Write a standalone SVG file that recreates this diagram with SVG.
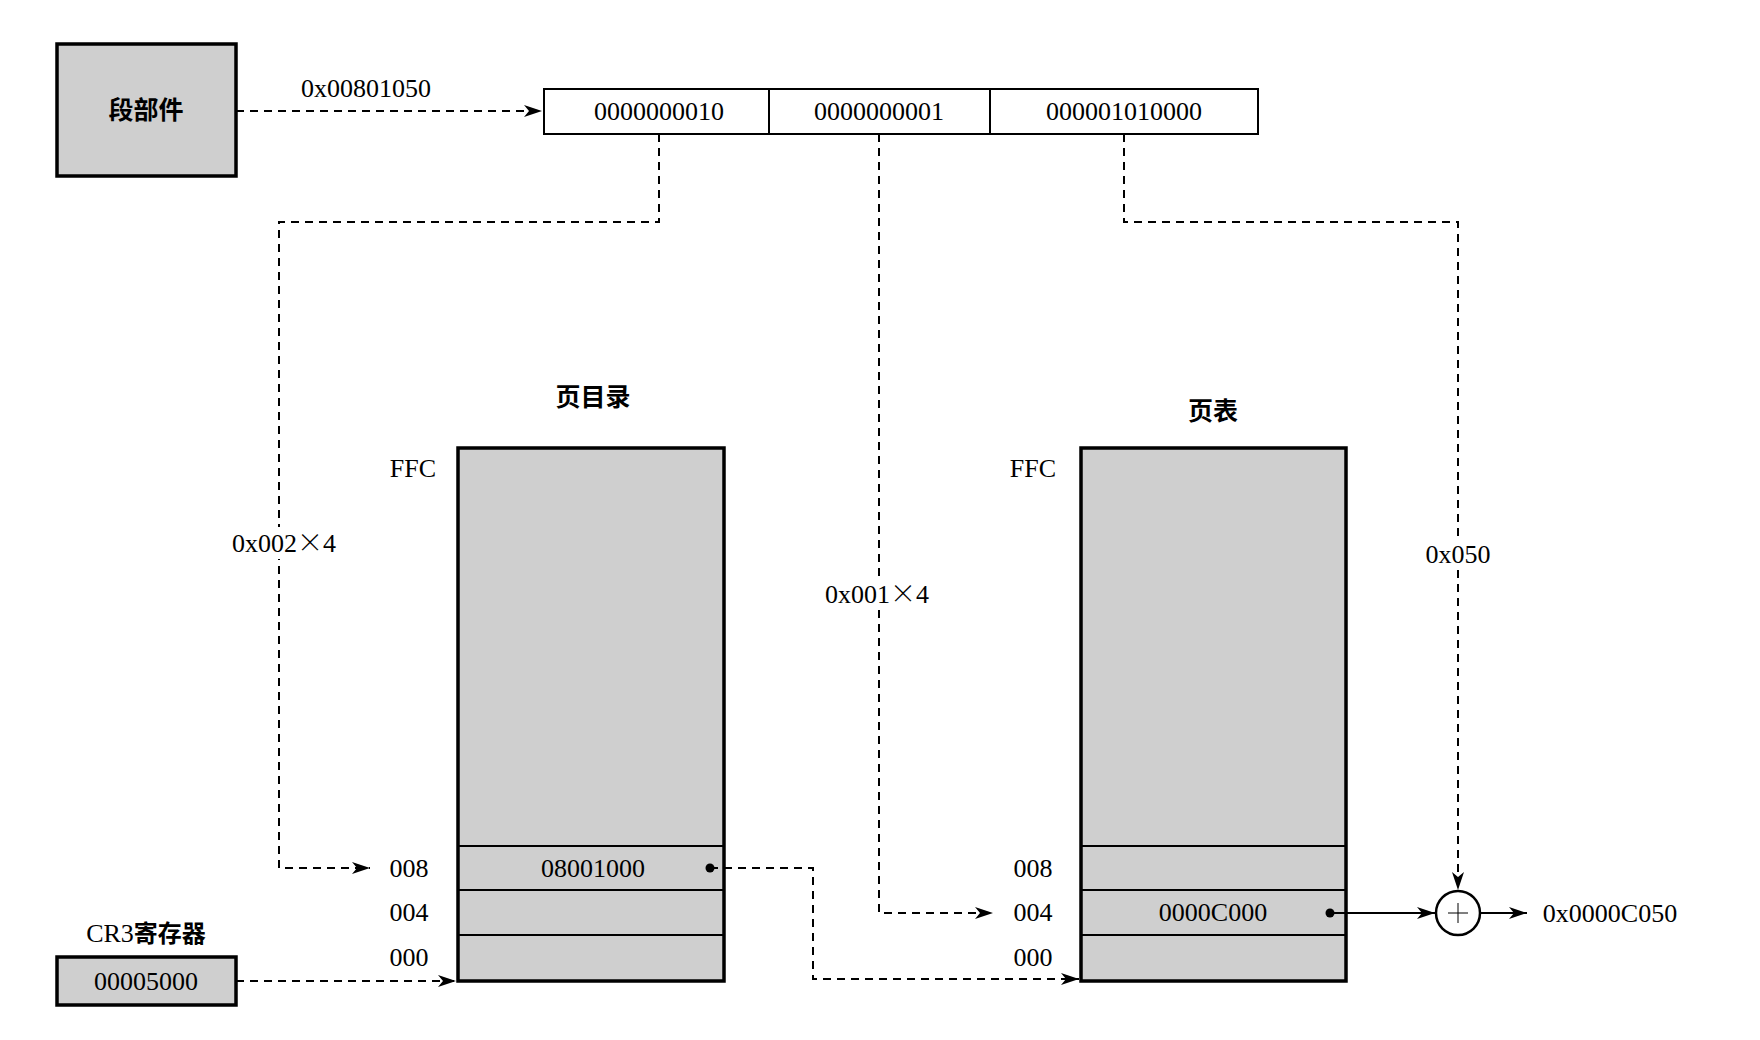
<svg xmlns="http://www.w3.org/2000/svg" width="1760" height="1040" viewBox="0 0 1760 1040">
<style>
.t{font-family:"Liberation Serif","Noto Sans CJK SC",serif;font-size:26px;fill:#000;text-anchor:middle}
.cn{font-family:"Noto Sans CJK SC","Liberation Serif",sans-serif;font-size:25px;font-weight:bold;fill:#000;text-anchor:middle}
.cj{font-family:"Noto Sans CJK SC",sans-serif;font-weight:bold}
.x{font-family:"Noto Sans CJK SC",sans-serif;font-weight:300}
.box{fill:#cfcfcf;stroke:#000;stroke-width:3.5}
.row{stroke:#000;stroke-width:2}
.dash{fill:none;stroke:#000;stroke-width:2;stroke-dasharray:8 6}
.solid{fill:none;stroke:#000;stroke-width:2}
.bg{fill:#fff}
</style>
<defs>
<marker id="ah" viewBox="0 0 18 12" refX="18" refY="6" markerWidth="18" markerHeight="12" markerUnits="userSpaceOnUse" orient="auto">
<path d="M0,0 L18,6 L0,12 L5,6 z" fill="#000"/>
</marker>
</defs>
<rect width="1760" height="1040" fill="#fff"/>

<g id="seg">
<rect class="box" x="57" y="44" width="179" height="132"/>
<text class="cn" x="146" y="119">段部件</text>
</g>

<g id="addr">
<rect x="544" y="89" width="714" height="45" fill="#fff" stroke="#000" stroke-width="2"/>
<line class="row" x1="769" y1="89" x2="769" y2="134"/>
<line class="row" x1="990" y1="89" x2="990" y2="134"/>
<text class="t" x="659" y="120">0000000010</text>
<text class="t" x="879" y="120">0000000001</text>
<text class="t" x="1124" y="120">000001010000</text>
</g>

<g id="pagedir">
<text class="cn" x="593" y="406">页目录</text>
<rect class="box" x="458" y="448" width="266" height="533"/>
<line class="row" x1="458" y1="846" x2="724" y2="846"/>
<line class="row" x1="458" y1="890" x2="724" y2="890"/>
<line class="row" x1="458" y1="935" x2="724" y2="935"/>
<text class="t" x="593" y="877">08001000</text>
<circle cx="710" cy="868" r="4.5" fill="#000"/>
<text class="t" x="413" y="477">FFC</text>
<text class="t" x="409" y="877">008</text>
<text class="t" x="409" y="921">004</text>
<text class="t" x="409" y="966">000</text>
</g>

<g id="pagetable">
<text class="cn" x="1213" y="420">页表</text>
<rect class="box" x="1081" y="448" width="265" height="533"/>
<line class="row" x1="1081" y1="846" x2="1346" y2="846"/>
<line class="row" x1="1081" y1="890" x2="1346" y2="890"/>
<line class="row" x1="1081" y1="935" x2="1346" y2="935"/>
<text class="t" x="1213" y="921">0000C000</text>
<circle cx="1330" cy="913" r="4.5" fill="#000"/>
<text class="t" x="1033" y="477">FFC</text>
<text class="t" x="1033" y="877">008</text>
<text class="t" x="1033" y="921">004</text>
<text class="t" x="1033" y="966">000</text>
</g>

<g id="cr3">
<text class="t" x="146" y="942">CR3<tspan class="cj" font-size="24">寄存器</tspan></text>
<rect class="box" x="57" y="957" width="179" height="48"/>
<text class="t" x="146" y="990">00005000</text>
</g>

<g id="adder">
<circle cx="1458" cy="913" r="22" fill="#fff" stroke="#000" stroke-width="2.5"/>
<line x1="1448" y1="913" x2="1468" y2="913" stroke="#000" stroke-width="1"/>
<line x1="1458" y1="903" x2="1458" y2="923" stroke="#000" stroke-width="1"/>
</g>

<g id="result">
<text class="t" x="1610" y="922">0x0000C050</text>
</g>

<g id="connectors">
<path class="dash" d="M236,111 H542" marker-end="url(#ah)"/>
<path class="dash" d="M659,134 V222 H279 V868 H370" marker-end="url(#ah)"/>
<path class="dash" d="M879,134 V913 H993" marker-end="url(#ah)"/>
<path class="dash" d="M1124,134 V222 H1458 V890" marker-end="url(#ah)"/>
<path class="dash" d="M710,868 H813 V979 H1079" marker-end="url(#ah)"/>
<path class="dash" d="M236,981 H456" marker-end="url(#ah)"/>
<path class="solid" d="M1330,913 H1435" marker-end="url(#ah)"/>
<path class="solid" d="M1480,913 H1527" marker-end="url(#ah)"/>
<rect class="bg" x="228" y="527" width="106" height="32"/>
<text class="t" x="284" y="552">0x002<tspan class="x">×</tspan>4</text>
<rect class="bg" x="822" y="578" width="112" height="32"/>
<text class="t" x="877" y="603">0x001<tspan class="x">×</tspan>4</text>
<rect class="bg" x="1424" y="538" width="68" height="32"/>
<text class="t" x="1458" y="563">0x050</text>
<text class="t" x="366" y="97">0x00801050</text>
</g>
</svg>
